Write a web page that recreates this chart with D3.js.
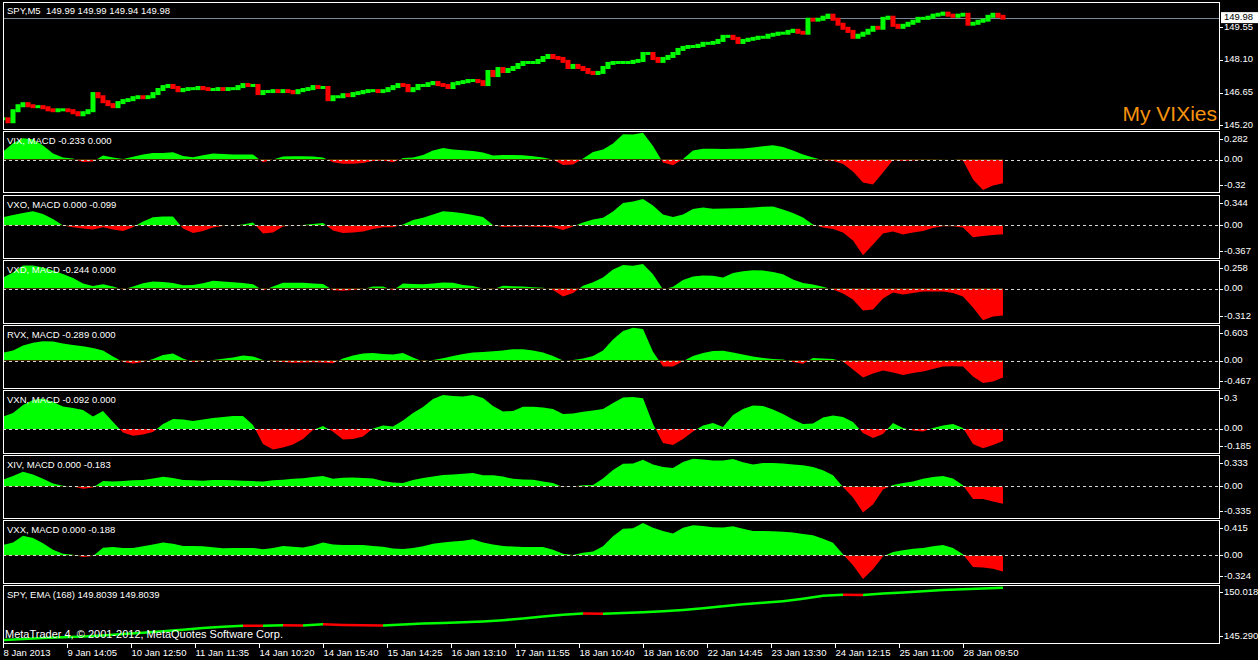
<!DOCTYPE html>
<html lang="en">
<head>
<meta charset="UTF-8">
<title>SPY M5 - My VIXies</title>
<style>
  body { margin: 0; background: #000; }
  svg { display: block; font-family: "Liberation Sans", Arial, sans-serif; }
  .txt { fill: #fff; font-size: 9.5px; white-space: pre; }
</style>
</head>
<body>
<svg id="chart" width="1258" height="660"></svg>
<script src="https://d3js.org/d3.v7.min.js"></script>
<script>
// ---- data (one value every 5 bars for price, 10 bars for MACD, 20 bars for EMA) ----
const spyClose = [
  145.51,145.38,145.87,146.09,146.18,146.09,146.05,146.05,146.00,145.91,
  145.87,145.91,145.91,145.87,145.78,145.69,145.78,145.87,146.63,146.49,
  146.27,146.14,146.05,146.23,146.32,146.36,146.45,146.49,146.45,146.49,
  146.63,146.81,146.94,146.99,146.90,146.76,146.81,146.85,146.85,146.90,
  146.85,146.81,146.81,146.85,146.81,146.85,146.85,146.94,147.03,146.99,
  146.99,146.63,146.72,146.72,146.76,146.72,146.76,146.72,146.67,146.76,
  146.81,146.85,146.94,146.90,146.90,146.36,146.49,146.49,146.58,146.54,
  146.63,146.67,146.72,146.76,146.76,146.72,146.76,146.85,146.94,147.03,
  146.99,146.76,146.85,146.99,146.99,147.07,147.12,147.03,146.99,146.90,
  147.07,147.12,147.16,147.21,147.21,147.16,147.03,147.61,147.43,147.74,
  147.61,147.70,147.79,147.92,148.01,148.01,148.01,148.10,148.23,148.32,
  148.23,148.19,148.06,147.79,147.88,147.79,147.70,147.57,147.52,147.57,
  147.79,147.97,148.01,148.01,148.01,148.01,148.06,148.10,148.41,148.41,
  148.19,148.06,148.19,148.28,148.41,148.59,148.68,148.72,148.72,148.77,
  148.86,148.86,148.90,148.99,149.17,149.17,149.08,148.90,148.99,149.04,
  149.08,149.13,149.13,149.22,149.26,149.31,149.31,149.39,149.44,149.35,
  149.31,149.93,149.89,149.93,150.02,150.11,149.93,149.71,149.53,149.39,
  149.13,149.22,149.31,149.44,149.57,149.53,149.97,150.02,149.66,149.57,
  149.66,149.75,149.84,149.97,149.97,150.02,150.11,150.15,150.20,150.11,
  150.06,150.11,150.15,149.71,149.75,149.84,149.89,150.06,150.15,150.06,
  149.98
];
const spyEma = [
  145.54,145.62,145.69,145.75,145.82,145.91,146.02,146.12,146.24,146.37,
  146.52,146.62,146.70,146.69,146.74,146.72,146.81,146.75,146.74,146.72,
  146.79,146.87,146.93,146.98,147.04,147.15,147.28,147.45,147.59,147.70,
  147.68,147.73,147.80,147.87,147.98,148.12,148.28,148.45,148.57,148.70,
  148.90,149.14,149.23,149.21,149.32,149.41,149.51,149.61,149.68,149.73,
  149.80
];
const vixMacd = [
  0.08,0.16,0.21,0.20,0.14,0.06,0.02,0.01,-0.025,-0.02,
  0.04,0.02,0.005,0.027,0.05,0.064,0.066,0.072,0.035,0.023,
  0.042,0.059,0.056,0.049,0.051,0.05,-0.027,0,0.03,0.033,
  0.033,0.03,0.02,-0.027,-0.042,-0.04,-0.033,-0.015,-0.01,-0.027,
  0.015,0.02,0.044,0.089,0.115,0.099,0.092,0.084,0.069,0.039,
  0.044,0.044,0.042,0.032,0.02,0,-0.054,-0.049,0.01,0.074,
  0.099,0.158,0.25,0.247,0.264,0.135,-0.03,-0.055,0.005,0.089,
  0.106,0.106,0.104,0.106,0.109,0.118,0.131,0.141,0.123,0.089,
  0.049,0.02,-0.005,-0.012,-0.044,-0.118,-0.227,-0.247,-0.128,-0.005,
  -0.015,-0.01,-0.005,-0.003,-0.002,0,-0.01,-0.197,-0.30,-0.257,
  -0.233
];
const vxoMacd = [
  0.094,0.119,0.141,0.161,0.130,0.073,0,-0.019,-0.034,-0.045,
  -0.02,-0.045,-0.062,-0.019,0.045,0.094,0.102,0.102,-0.034,-0.085,
  -0.062,-0.023,-0.006,0,0.011,0.034,-0.09,-0.079,-0.011,0,
  0.006,0.017,0.028,-0.056,-0.085,-0.079,-0.068,-0.04,-0.019,-0.019,
  0.011,0.062,0.087,0.124,0.161,0.152,0.139,0.119,0.096,0.006,
  -0.017,-0.014,-0.011,-0.014,-0.017,-0.019,-0.051,-0.011,0.034,0.068,
  0.087,0.158,0.254,0.271,0.30,0.226,0.124,0.096,0.124,0.186,
  0.203,0.188,0.192,0.195,0.198,0.203,0.211,0.214,0.181,0.141,
  0.09,0.011,-0.023,-0.04,-0.079,-0.169,-0.335,-0.214,-0.09,-0.068,
  -0.102,-0.079,-0.062,-0.028,-0.008,-0.009,-0.023,-0.132,-0.119,-0.107,
  -0.099
];
const vxdMacd = [
  0.10,0.145,0.208,0.208,0.19,0.163,0.131,0.095,0.045,0.023,
  0.039,0.018,-0.009,0.018,0.048,0.063,0.059,0.05,0.03,0.032,
  0.048,0.07,0.063,0.057,0.05,0.039,-0.018,0.018,0.052,0.052,
  0.052,0.045,0.041,-0.015,-0.021,-0.014,-0.005,0.018,0.018,-0.015,
  0.045,0.041,0.038,0.045,0.054,0.052,0.032,0.023,0,-0.007,
  0.024,0.021,0.018,0.012,0.007,-0.014,-0.072,-0.041,0.024,0.057,
  0.10,0.172,0.213,0.206,0.222,0.129,-0.009,0.015,0.077,0.109,
  0.118,0.115,0.10,0.14,0.157,0.166,0.163,0.149,0.129,0.081,
  0.05,0.036,0.015,-0.009,-0.045,-0.10,-0.199,-0.19,-0.09,-0.036,
  -0.054,-0.041,-0.027,-0.027,-0.027,-0.041,-0.072,-0.172,-0.287,-0.253,
  -0.244
];
const rvxMacd = [
  0.131,0.17,0.255,0.302,0.328,0.323,0.289,0.263,0.243,0.212,
  0.17,0.068,-0.025,-0.051,-0.025,0.025,0.093,0.119,0.034,-0.025,
  -0.008,0.008,0.031,0.051,0.085,0.068,0.008,-0.012,-0.025,-0.039,
  -0.034,-0.029,-0.034,-0.046,0.034,0.085,0.119,0.127,0.11,0.102,
  0.127,0.051,-0.017,0.008,0.039,0.076,0.11,0.136,0.144,0.158,
  0.17,0.192,0.192,0.17,0.136,0.076,0,0.008,0.034,0.076,
  0.17,0.357,0.501,0.555,0.535,0.15,-0.102,-0.102,-0.012,0.076,
  0.127,0.161,0.166,0.136,0.102,0.068,0.042,0.025,0.017,-0.025,
  -0.056,0.042,0.034,0.025,-0.017,-0.153,-0.289,-0.221,-0.17,-0.204,
  -0.246,-0.212,-0.187,-0.144,-0.102,-0.097,-0.102,-0.272,-0.382,-0.357,
  -0.289
];
const vxnMacd = [
  0.095,0.123,0.185,0.223,0.235,0.208,0.173,0.162,0.146,0.096,
  0.139,0.054,-0.027,-0.052,-0.042,-0.023,0.038,0.077,0.073,0.062,
  0.073,0.085,0.092,0.1,0.1,0.031,-0.115,-0.158,-0.142,-0.119,
  -0.077,-0.008,0.023,-0.021,-0.081,-0.077,-0.058,0.004,0.027,0.019,
  0.065,0.123,0.169,0.231,0.262,0.254,0.25,0.262,0.239,0.177,
  0.135,0.139,0.172,0.172,0.166,0.154,0.115,0.119,0.133,0.142,
  0.154,0.2,0.242,0.246,0.236,0.038,-0.108,-0.123,-0.077,-0.019,
  0.027,0.046,0.015,0.108,0.154,0.181,0.177,0.15,0.115,0.073,
  0.038,0.042,0.089,0.104,0.092,0.054,-0.031,-0.069,-0.038,0.046,
  0.008,-0.012,-0.019,0.008,0.027,0.038,0.008,-0.115,-0.149,-0.123,
  -0.092
];
const xivMacd = [
  0.071,0.111,0.156,0.127,0.08,0.032,0.007,0,-0.024,-0.011,
  0.058,0.053,0.058,0.064,0.069,0.085,0.103,0.09,0.069,0.064,
  0.06,0.069,0.069,0.064,0.06,0.056,0.053,0.064,0.071,0.08,
  0.087,0.101,0.111,0.082,0.092,0.095,0.09,0.085,0.058,0.042,
  0.037,0.069,0.09,0.106,0.122,0.127,0.135,0.141,0.117,0.117,
  0.106,0.08,0.074,0.071,0.053,0.037,-0.007,0,0.011,0.016,
  0.085,0.175,0.239,0.244,0.283,0.233,0.207,0.194,0.26,0.292,
  0.286,0.276,0.276,0.29,0.255,0.233,0.249,0.249,0.244,0.233,
  0.223,0.207,0.17,0.117,-0.005,-0.117,-0.276,-0.191,-0.032,0.016,
  0.037,0.053,0.08,0.101,0.111,0.085,0.011,-0.133,-0.133,-0.159,
  -0.183
];
const vxxMacd = [
  0.121,0.152,0.229,0.205,0.141,0.065,0.018,0.006,-0.02,-0.006,
  0.09,0.097,0.088,0.088,0.106,0.129,0.152,0.135,0.109,0.109,
  0.108,0.094,0.084,0.086,0.088,0.088,0.073,0.088,0.109,0.1,
  0.091,0.117,0.152,0.129,0.121,0.121,0.121,0.111,0.1,0.082,
  0.076,0.086,0.106,0.135,0.152,0.164,0.172,0.188,0.152,0.129,
  0.109,0.103,0.097,0.097,0.097,0.065,0.018,0.004,0.032,0.045,
  0.106,0.223,0.311,0.319,0.381,0.323,0.287,0.258,0.323,0.352,
  0.346,0.331,0.328,0.343,0.311,0.285,0.285,0.284,0.276,0.267,
  0.252,0.235,0.194,0.147,0.012,-0.117,-0.276,-0.164,-0.012,0.039,
  0.059,0.079,0.088,0.106,0.121,0.088,0.012,-0.135,-0.141,-0.158,
  -0.188
];

const macdHeaders = [
  "VIX, MACD -0.233 0.000", "VXO, MACD 0.000 -0.099", "VXD, MACD -0.244 0.000",
  "RVX, MACD -0.289 0.000", "VXN, MACD -0.092 0.000", "XIV, MACD 0.000 -0.183",
  "VXX, MACD 0.000 -0.188"
];
const macdMax = [0.282, 0.344, 0.258, 0.603, 0.3, 0.333, 0.415];
const macdMin = [-0.32, -0.367, -0.312, -0.467, -0.185, -0.335, -0.324];
const priceTicks = [149.55, 148.10, 146.65, 145.20];
const lastPrice = 149.98;
const emaRange = [145.290, 150.018];
const timeLabels = [
  "8 Jan 2013", "9 Jan 14:05", "10 Jan 12:50", "11 Jan 11:35", "14 Jan 10:20",
  "14 Jan 15:40", "15 Jan 14:25", "16 Jan 13:10", "17 Jan 11:55", "18 Jan 10:40",
  "18 Jan 16:00", "22 Jan 14:45", "23 Jan 13:30", "24 Jan 12:15", "25 Jan 11:00",
  "28 Jan 09:50"
];

// ---- layout ----
const svg = d3.select("#chart");
const L = 3, R = 1219;
const x = d3.scaleLinear().domain([0, 1000]).range([3, 1003]);
const GREEN = "#00ff00", RED = "#ff0000";

svg.append("rect").attr("width", 1258).attr("height", 660).attr("fill", "#000");

function clipRect(id, y0, y1) {
  svg.append("clipPath").attr("id", id).append("rect")
    .attr("x", L + 1).attr("y", y0).attr("width", R - L - 1).attr("height", Math.max(0, y1 - y0));
  return "url(#" + id + ")";
}
function frame(top, bottom) {
  svg.append("rect").attr("x", L + 0.5).attr("y", top + 0.5)
    .attr("width", R - L).attr("height", bottom - top)
    .attr("fill", "none").attr("stroke", "#fff").attr("stroke-width", 1);
}
function axisLabel(y, text) {
  svg.append("line").attr("x1", R + 1).attr("x2", R + 4).attr("y1", Math.round(y) + 0.5).attr("y2", Math.round(y) + 0.5)
    .attr("stroke", "#fff");
  svg.append("text").attr("class", "txt").attr("x", R + 5).attr("y", y)
    .attr("dominant-baseline", "middle").text(text);
}

// ---- main price window ----
const mainTop = 2, mainBottom = 129;
const yP = d3.scaleLinear().domain([145.20, 149.55]).range([125.3, 27.3]);
const mainG = svg.append("g").attr("clip-path", clipRect("clipMain", mainTop + 1, mainBottom));

mainG.append("line").attr("x1", L).attr("x2", R)
  .attr("y1", Math.round(yP(lastPrice)) + 0.5).attr("y2", Math.round(yP(lastPrice)) + 0.5)
  .attr("stroke", "#778899");

mainG.selectAll("rect.bar").data(spyClose).enter().append("rect")
  .attr("class", "bar")
  .attr("x", (d, k) => x(k * 5) - 2.5)
  .attr("width", 5)
  .attr("y", (d, k) => Math.min(yP(k ? spyClose[k - 1] : d), yP(d)) - 1)
  .attr("height", (d, k) => Math.abs(yP(k ? spyClose[k - 1] : d) - yP(d)) + 3)
  .attr("fill", (d, k) => (k && d < spyClose[k - 1]) ? RED : GREEN);

svg.append("text").attr("class", "txt").attr("x", 7).attr("y", 14)
  .text("SPY,M5  149.99 149.99 149.94 149.98");
svg.append("text").attr("x", 1217).attr("y", 121).attr("text-anchor", "end")
  .attr("font-size", 21).attr("fill", "#f7920c").text("My VIXies");
frame(mainTop, mainBottom);
priceTicks.forEach(p => axisLabel(yP(p), p.toFixed(2)));
svg.append("rect").attr("x", R + 2).attr("y", yP(lastPrice) - 5.5).attr("width", 37).attr("height", 11).attr("fill", "#fff");
svg.append("text").attr("x", R + 5).attr("y", yP(lastPrice)).attr("dominant-baseline", "middle")
  .attr("font-size", 9.5).attr("fill", "#000").text(lastPrice.toFixed(2));

// ---- MACD sub-windows ----
const macdSeries = [vixMacd, vxoMacd, vxdMacd, rvxMacd, vxnMacd, xivMacd, vxxMacd];
const tops = [131, 195, 260, 325, 390, 455, 520];
const bottoms = [192, 258, 323, 388, 453, 518, 583];

macdSeries.forEach((vals, p) => {
  const top = tops[p], bottom = bottoms[p];
  const y = d3.scaleLinear().domain([macdMin[p], macdMax[p]]).range([bottom, top]);
  const y0 = y(0);
  const area = d3.area().x((d, i) => x(i * 10)).y0(y0).y1(d => y(d));

  svg.append("path").datum(vals).attr("d", area).attr("fill", GREEN)
    .attr("clip-path", clipRect("up" + p, top + 1, y0));
  svg.append("path").datum(vals).attr("d", area).attr("fill", RED)
    .attr("clip-path", clipRect("dn" + p, y0, bottom));

  svg.append("line").attr("x1", L).attr("x2", R)
    .attr("y1", Math.round(y0) + 0.5).attr("y2", Math.round(y0) + 0.5)
    .attr("stroke", "#d8d8d8").attr("stroke-dasharray", "3,3");

  svg.append("text").attr("class", "txt").attr("x", 7).attr("y", top + 13).text(macdHeaders[p]);
  frame(top, bottom);
  axisLabel(top + 8, String(macdMax[p]));
  axisLabel(y0, "0.00");
  axisLabel(bottom - 7, String(macdMin[p]));
});

// ---- EMA sub-window ----
const emaTop = 585, emaBottom = 643;
const yE = d3.scaleLinear().domain(emaRange).range([emaBottom, emaTop]);
const emaG = svg.append("g").attr("clip-path", clipRect("clipEma", emaTop + 1, emaBottom));
const emaLine = d3.line().x(d => x(d.i * 20)).y(d => yE(d.v));
const emaSegs = d3.pairs(spyEma.map((v, i) => ({ i, v })));
emaG.selectAll("path.ema").data(emaSegs).enter().append("path")
  .attr("class", "ema")
  .attr("d", d => emaLine(d))
  .attr("fill", "none")
  .attr("stroke", d => d[1].v < d[0].v ? RED : GREEN)
  .attr("stroke-width", 2.5);

svg.append("text").attr("class", "txt").attr("x", 7).attr("y", emaTop + 13)
  .text("SPY, EMA (168) 149.8039 149.8039");
svg.append("text").attr("x", 5).attr("y", 638).attr("font-size", 11).attr("fill", "#fff")
  .text("MetaTrader 4, \u00a9 2001-2012, MetaQuotes Software Corp.");
frame(emaTop, emaBottom);
axisLabel(emaTop + 7, emaRange[1].toFixed(3));
axisLabel(emaBottom - 7, emaRange[0].toFixed(3));

// ---- time axis ----
timeLabels.forEach((t, i) => {
  const tx = Math.round(x(i * 64)) + 0.5;
  svg.append("line").attr("x1", tx).attr("x2", tx).attr("y1", emaBottom + 1).attr("y2", emaBottom + 5)
    .attr("stroke", "#fff");
  svg.append("text").attr("class", "txt").attr("x", tx).attr("y", 656).text(t);
});
</script>
</body>
</html>
